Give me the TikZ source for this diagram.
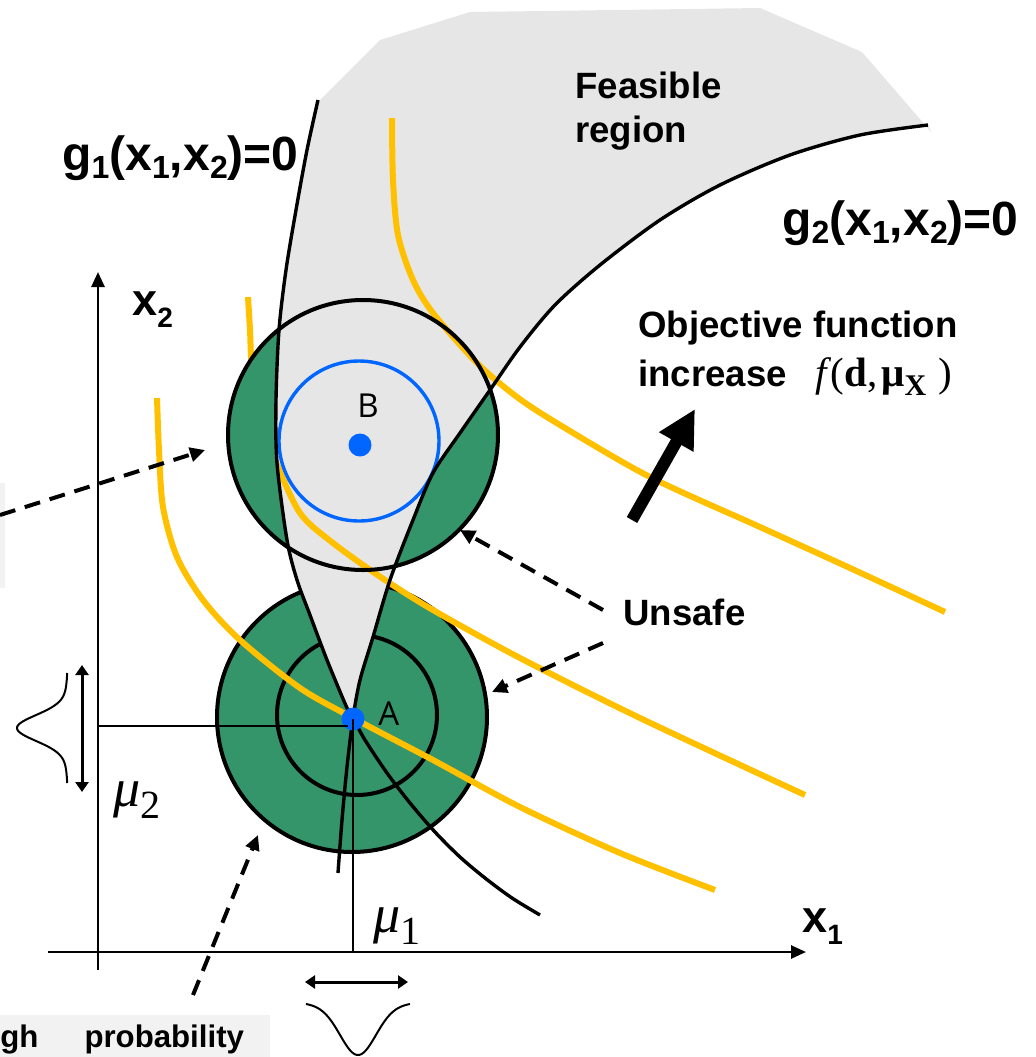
\documentclass[tikz,border=0pt]{standalone}
\usepackage{fontspec}
\setmainfont{Liberation Sans}
\newfontfamily\tmsfont{Liberation Serif}
\newfontfamily\ptfont{Open Sans}
\usetikzlibrary{arrows.meta}
\definecolor{feas}{HTML}{E6E6E6}
\definecolor{boxgrey}{HTML}{F2F2F2}
\definecolor{unsafegreen}{HTML}{34946A}
\definecolor{contour}{HTML}{FFC000}
\definecolor{bluept}{HTML}{0066FF}
\newcommand\lsub[1]{\raisebox{-4pt}{\fontsize{16}{16}\selectfont #1}}
\newcommand\feaspath{plot[smooth] coordinates {(318,102) (307,150) (296,210) (286,270) (279,330) (276,400) (277,463) (287,540) (297,580) (310,615) (327,660) (347,708) (353,718)}
 -- plot[smooth] coordinates {(353,718) (360,680) (373,637) (390,580) (413,520) (433,473) (460,433) (490,390) (520,347) (555,305) (600,265) (660,220) (720,185) (790,155) (860,135) (928,125)}
 -- (932,133) -- (862,52) -- (760,8) -- (470,12) -- (380,40) -- cycle}
\tikzset{
  circ/.style={line width=2pt},
  bound/.style={line width=1.7pt},
  contourline/.style={draw=contour, line width=3pt},
  axisline/.style={line width=1.3pt, -{Triangle[length=7.5pt,width=6.5pt]}},
  projline/.style={line width=1pt},
  dasharrow/.style={line width=2pt, dash pattern=on 8pt off 5pt, -{Triangle[length=7.5pt,width=7pt]}},
  spread/.style={line width=1.5pt, {Triangle[length=5pt,width=6.5pt]}-{Triangle[length=5pt,width=6.5pt]}},
  lbl/.style={font=\bfseries\fontsize{18.3}{22}\selectfont, inner sep=0pt, anchor=base west},
  glbl/.style={font=\bfseries\fontsize{24}{28}\selectfont, inner sep=0pt, anchor=base west},
  ptlbl/.style={font=\ptfont\fontsize{16.5}{18}\selectfont, inner sep=0pt, anchor=base west},
  mulbl/.style={inner sep=0pt, anchor=base west, font=\tmsfont\fontsize{27}{30}\selectfont},
  dot/.style={circle, fill=bluept, minimum size=11.5pt, inner sep=0pt},
}
\begin{document}
\begin{tikzpicture}[x=0.5pt,y=-0.5pt]
\useasboundingbox (0,0) rectangle (1036,1057);
% partial boxes
\fill[boxgrey] (-10,483) rectangle (5,588);
\fill[boxgrey] (-10,1015) rectangle (270,1065);
% circle A
\fill[unsafegreen] (352,717) circle[radius=67.5pt];
\draw[circ] (352,717) circle[radius=67.5pt];
\draw[circ] (357,715) circle[radius=40pt];
% feasible region
\fill[feas] \feaspath;
% objective contours
\draw[contourline] plot[smooth] coordinates {(157,398) (159,450) (163,507) (177,557) (203,600) (240,640) (300,688) (353,718) (433,760) (520,807) (620,853) (715,890)};
\draw[contourline] plot[smooth] coordinates {(248,297) (250,330) (252,370) (260,420) (275,460) (300,513) (333,543) (382,578) (433,610) (520,658) (640,718) (805,795)};
\draw[contourline] plot[smooth] coordinates {(392,118) (393,180) (398,235) (413,280) (433,313) (477,363) (517,397) (560,425) (650,477) (760,527) (850,568) (945,612)};
% circle B lunes
\begin{scope}
\clip (363,435) circle[radius=67.5pt];
\fill[unsafegreen, even odd rule] (363,435) circle[radius=67.5pt] \feaspath;
\end{scope}
\draw[circ] (363,435) circle[radius=67.5pt];
\draw[bluept, line width=1.7pt] (359,441) circle[radius=40pt];
% limit states
\draw[bound] plot[smooth] coordinates {(318,100) (307,150) (296,210) (286,270) (279,330) (276,400) (277,463) (287,540) (297,580) (310,615) (327,660) (347,708) (353,718) (365,740) (387,773) (410,803) (435,832) (460,857) (485,878) (512,898) (540,915)};
\draw[bound] plot[smooth] coordinates {(928,125) (860,135) (790,155) (720,185) (660,220) (600,265) (555,305) (520,347) (490,390) (460,433) (433,473) (413,520) (390,580) (373,637) (360,680) (353,718) (347,767) (342,820) (338,873)};
% axes
\coordinate (o2) at (98,970);
\coordinate (x2end) at (98,272);
\coordinate (o1) at (48,952);
\coordinate (x1end) at (806,952);
\draw[axisline] (o2) -- (x2end);
\draw[axisline] (o1) -- (x1end);
% points
\node[dot] (A) at (353,719) {};
\node[dot] (B) at (360,445) {};
\coordinate (mu2pt) at (98,726);
\coordinate (mu2end) at (348,726);
\coordinate (mu1pt) at (353,952);
\draw[projline] (mu2pt) -- (mu2end);
\draw[line width=0.7pt] (A.center) -- (mu1pt);
\node[ptlbl] (Alab) at (378,725) {A};
\node[ptlbl] (Blab) at (357,417) {B};
% spreads
\coordinate (s2a) at (82,665); \coordinate (s2b) at (82,792);
\draw[spread] (s2a) -- (s2b);
\coordinate (s1a) at (305,982); \coordinate (s1b) at (408,982);
\draw[spread] (s1a) -- (s1b);
\draw[line width=1pt] plot[domain=-55:55, samples=90, smooth] ({69-52*(0.8*exp(-((\x/18)^2))+0.2/(1+(\x/25)^2))}, {728+\x});
\draw[line width=1pt] plot[domain=-52:52, samples=90, smooth] ({358+\x}, {1000+55*(0.8*exp(-((\x/25)^2))+0.2/(1+(\x/35)^2))});
% labels
\node[lbl] (feas1) at (575,98) {Feasible};
\node[lbl] (feas2) at (575,142) {region};
\node[lbl] (obj1) at (638,337) {Objective function};
\node[lbl] (obj2) at (638,386) {increase};
\node[inner sep=0pt, anchor=base west, font=\tmsfont\fontsize{20.5}{24}\selectfont] (fobj) at (815,386)
  {{\itshape f}\hspace{2pt}(\textbf{d},\hspace{2pt}\textbf{μ}\raisebox{-4.5pt}{\fontsize{15}{15}\selectfont\bfseries X}\hspace{6pt})};
\node[lbl] (unsafe) at (623,625) {Unsafe};
\node[glbl] (g1lbl) at (62,170) {g\lsub{1}(x\lsub{1},x\lsub{2})=0};
\node[glbl] (g2lbl) at (782,235) {g\lsub{2}(x\lsub{1},x\lsub{2})=0};
\node[inner sep=0pt, anchor=base west, font=\bfseries\fontsize{22.5}{24}\selectfont] (x2lbl) at (132,315) {x\raisebox{-6pt}{\fontsize{14}{14}\selectfont 2}};
\node[inner sep=0pt, anchor=base west, font=\bfseries\fontsize{22.5}{24}\selectfont] (x1lbl) at (802,932) {x\raisebox{-6pt}{\fontsize{14}{14}\selectfont 1}};
\node[mulbl] (mu2lbl) at (113,806) {{\itshape μ}\raisebox{-6pt}{\fontsize{20}{20}\selectfont 2}};
\node[mulbl] (mu1lbl) at (373,932) {{\itshape μ}\raisebox{-6pt}{\fontsize{20}{20}\selectfont 1}};
\node[inner sep=0pt, anchor=base west, font=\bfseries\fontsize{15.6}{18}\selectfont] (hp) at (0,1047) {gh\hspace{23pt}probability};
% objective direction
\coordinate (objT) at (632,520); \coordinate (objH) at (695,409);
\draw[line width=6pt, -{Triangle[length=19pt,width=18.5pt]}] (objT) -- (objH);
% dashed pointers
\coordinate (lt) at (0,515); \coordinate (lh) at (205,450);
\draw[dasharrow] (lt) -- (lh);
\coordinate (bt) at (193,995); \coordinate (bh) at (258,835);
\draw[dasharrow] (bt) -- (bh);
\coordinate (u1t) at (603,610); \coordinate (u1h) at (460,530);
\draw[dasharrow] (u1t) -- (u1h);
\coordinate (u2t) at (603,643); \coordinate (u2h) at (492,692);
\draw[dasharrow] (u2t) -- (u2h);
\end{tikzpicture}
\end{document}
